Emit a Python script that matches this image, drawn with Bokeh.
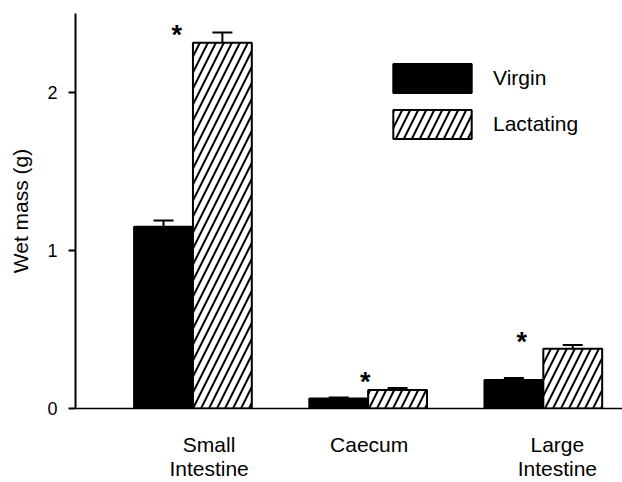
from bokeh.plotting import figure
from bokeh.models import (ColumnDataSource, Range1d, FixedTicker, Whisker, TeeHead,
                          Legend, LegendItem)
from bokeh.core.properties import value
from bokeh.embed import file_html
from bokeh.resources import INLINE

# ---- data ----
categories = ["Small\nIntestine", "Caecum", "Large\nIntestine"]
virgin = [1.15, 0.063, 0.18]
virgin_err = [0.04, 0.007, 0.013]
lactating = [2.315, 0.117, 0.378]
lactating_err = [0.065, 0.012, 0.024]
series_names = ["Virgin", "Lactating"]
y_ticks = [0, 1, 2]

# ---- layout constants ----
FONT = "Liberation Sans"
BAR_W = 0.336
LABEL_DX = [0.092, 0.006, 0.08]     # category label shift (data units)
STAR_DX = [-0.092, -0.017, -0.123]  # asterisk shift from group centre (data units)
STAR_UP = [3, 12, 9]                # asterisk lift above error cap (px)
STAR_BASE = 6                       # glyph centring correction (px)

group = list(range(len(categories)))
xv = [g - BAR_W / 2 for g in group]
xl = [g + BAR_W / 2 for g in group]

src = ColumnDataSource(dict(
    xv=xv, xl=xl,
    virgin=virgin, lact=lactating,
    v_up=[a + b for a, b in zip(virgin, virgin_err)],
    l_up=[a + b for a, b in zip(lactating, lactating_err)],
))

p = figure(width=622, height=482, output_backend="svg", toolbar_location=None,
           x_range=Range1d(-0.6705, 2.452), y_range=Range1d(0, 2.5),
           min_border_left=75, min_border_right=0, min_border_top=13,
           min_border_bottom=74)
p.outline_line_color = None
p.xgrid.visible = False
p.ygrid.visible = False
p.background_fill_color = "white"

r_v = p.vbar(x="xv", top="virgin", width=BAR_W, source=src,
             fill_color="black", line_color="black", line_width=2)
r_l = p.vbar(x="xl", top="lact", width=BAR_W, source=src,
             fill_color="white", line_color="black", line_width=2,
             hatch_pattern="/", hatch_color="black", hatch_weight=2, hatch_scale=16)

for base, lower, upper in (("xv", "virgin", "v_up"), ("xl", "lact", "l_up")):
    w = Whisker(base=base, lower=lower, upper=upper, source=src, dimension="height",
                line_color="black", line_width=2, level="overlay",
                upper_head=TeeHead(size=20, line_color="black", line_width=2),
                lower_head=None)
    p.add_layout(w)

# significance asterisks
star_x = [g + dx for g, dx in zip(group, STAR_DX)]
star_y = [a + b for a, b in zip(lactating, lactating_err)]
p.text(x=star_x, y=star_y, text=["*"] * len(group), text_font=value(FONT),
       text_font_style="bold", text_font_size="27px", text_align="center",
       text_baseline="middle", y_offset=[STAR_BASE - u for u in STAR_UP],
       text_color="black")

# axes
p.yaxis.ticker = FixedTicker(ticks=y_ticks)
p.yaxis.minor_tick_line_color = None
p.yaxis.major_tick_out = 7
p.yaxis.major_tick_in = 0
p.yaxis.major_tick_line_width = 2
p.yaxis.major_label_standoff = 11
p.yaxis.major_label_text_font = FONT
p.yaxis.major_label_text_font_size = "18px"
p.yaxis.major_label_text_color = "black"
p.yaxis.axis_line_width = 2
p.yaxis.axis_label = "Wet mass (g)"
p.yaxis.axis_label_text_font = FONT
p.yaxis.axis_label_text_font_size = "21px"
p.yaxis.axis_label_text_font_style = "normal"
p.yaxis.axis_label_text_color = "black"
p.yaxis.axis_label_standoff = 12

label_x = [g + d for g, d in zip(group, LABEL_DX)]
p.xaxis.ticker = FixedTicker(ticks=label_x)
p.xaxis.major_label_overrides = {x: c for x, c in zip(label_x, categories)}
p.xaxis.minor_tick_line_color = None
p.xaxis.major_tick_line_color = None
p.xaxis.major_tick_out = 0
p.xaxis.major_tick_in = 0
p.xaxis.major_label_standoff = 24
p.xaxis.major_label_text_font = FONT
p.xaxis.major_label_text_font_size = "21px"
p.xaxis.major_label_text_line_height = 1.05
p.xaxis.major_label_text_color = "black"
p.xaxis.axis_line_width = 1.5

legend = Legend(items=[LegendItem(label=series_names[0], renderers=[r_v]),
                       LegendItem(label=series_names[1], renderers=[r_l])],
                location=(308, 266), glyph_width=98, glyph_height=36, spacing=10,
                label_standoff=12, padding=0, margin=0, border_line_color=None,
                background_fill_alpha=0, label_text_font=FONT,
                label_text_font_size="21px", label_text_color="black")
p.add_layout(legend)

open("out.html", "w").write(file_html(p, INLINE))
